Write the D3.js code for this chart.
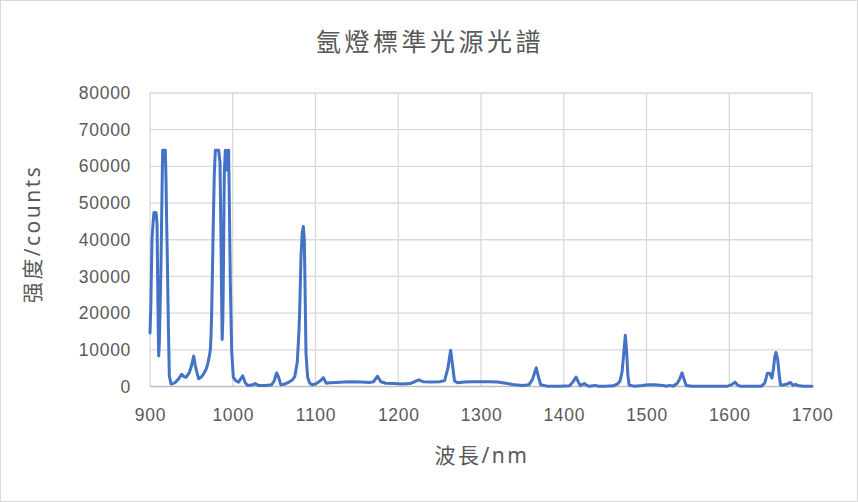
<!DOCTYPE html>
<html>
<head>
<meta charset="utf-8">
<script src="https://cdn.jsdelivr.net/npm/d3@7"></script>
<style>
  html, body { margin: 0; padding: 0; background: #fff; }
  svg { display: block; font-family: "Noto Sans", "Noto Sans CJK TC", sans-serif; }
</style>
</head>
<body>
<svg id="chart" width="858" height="502"></svg>
<script>
const chartTitle = "氬燈標準光源光譜";
const xTitle = "波長/nm";
const yTitle = "强度/counts";
const xTicks = [900, 1000, 1100, 1200, 1300, 1400, 1500, 1600, 1700];
const yTicks = [0, 10000, 20000, 30000, 40000, 50000, 60000, 70000, 80000];

const wavelength = [
  900, 901, 902.4, 903.5, 904.8, 906, 907.3, 908.5, 909.7, 910.5, 911.3, 912.1, 913.3, 914.5, 915.3, 917, 918.5, 919.3, 920.1, 920.9,
  922.2, 923.4, 925.4, 928, 931, 935, 938.3, 941, 943.5, 947.5, 950, 952.8, 954.5, 956.5, 958.8, 962, 964.4, 968, 969.7, 971.5,
  972.9, 973.8, 974.5, 975.5, 976.5, 977.7, 979, 981, 983, 984.6, 985.8, 986.5, 987.2, 988, 988.6, 989.8, 991, 992.8, 994, 995,
  995.9, 997.1, 998.7, 1000.7, 1004, 1007, 1012, 1015, 1018, 1023, 1027, 1031, 1040, 1047, 1050, 1053, 1055.5, 1058, 1062, 1068,
  1072, 1075, 1078, 1080, 1081, 1082.5, 1084, 1085.3, 1086.5, 1087.5, 1088.5, 1090.5, 1093, 1096, 1100, 1106, 1109.5, 1113, 1117, 1125,
  1135, 1145, 1155, 1165, 1170, 1175, 1179, 1185, 1195, 1205, 1214, 1220, 1225, 1230, 1240, 1250, 1256, 1260, 1263.3, 1265.5,
  1268, 1272, 1280, 1290, 1300, 1310, 1320, 1330, 1338, 1350, 1358, 1362, 1366.8, 1369, 1372, 1380, 1395, 1407, 1411, 1414.8,
  1417.5, 1420, 1424.8, 1428, 1431, 1437.8, 1442, 1450, 1460, 1465, 1468, 1470.5, 1472.5, 1474.4, 1476, 1477.5, 1479, 1485, 1495, 1502,
  1510, 1520, 1524, 1528, 1532, 1537, 1540, 1543, 1545, 1548, 1555, 1580, 1598, 1603, 1607, 1610, 1614, 1630, 1639, 1643,
  1646, 1649, 1651.6, 1653.5, 1655, 1656.5, 1658.5, 1660.5, 1662, 1665, 1669, 1674, 1677, 1680, 1684, 1690, 1700
];
const intensity = [
  14600, 22000, 40000, 44000, 47400, 46000, 47400, 44500, 20000, 8300, 12000, 20000, 33700, 52700, 64400, 64400, 64400, 57000, 45000, 35500,
  16400, 2800, 700, 800, 1200, 2200, 3300, 2700, 2500, 3800, 5500, 8300, 6000, 4000, 2100, 2600, 3300, 4800, 6100, 8000,
  10000, 14000, 20000, 32000, 44500, 58000, 64400, 64400, 64400, 61000, 40000, 25000, 12800, 18000, 29000, 58000, 64400, 59000, 64400, 64400,
  50000, 28000, 9700, 2500, 1500, 1200, 2900, 1000, 300, 400, 800, 300, 300, 500, 1500, 3700, 2500, 500, 600, 1200,
  1800, 2700, 6700, 15000, 21800, 35500, 42000, 43600, 40000, 25000, 9000, 2500, 900, 500, 700, 1600, 2400, 900, 1000, 1100,
  1200, 1300, 1200, 1100, 1300, 2800, 1300, 900, 800, 700, 800, 1300, 1800, 1300, 1200, 1300, 1600, 5000, 9900, 6000,
  1500, 1000, 1200, 1300, 1300, 1300, 1200, 900, 550, 300, 500, 1800, 5100, 3000, 500, 100, 50, 200, 1200, 2600,
  1300, 250, 800, 300, 50, 300, 50, 50, 200, 700, 1500, 4000, 9000, 14000, 9500, 3000, 400, 100, 300, 500,
  500, 300, 50, 300, 100, 800, 2000, 3700, 2200, 300, 50, 50, 100, 500, 1200, 400, 50, 50, 100, 1000,
  3600, 3600, 2300, 5000, 8000, 9300, 7400, 2900, 400, 400, 600, 1100, 300, 600, 200, 50, 50
];

const data = wavelength.map((w, i) => ({ w, v: intensity[i] }));

const svg = d3.select("#chart");
const W = 858, H = 502;
const plotLeft = 150, plotRight = 812, plotTop = 93, plotBottom = 386.5;

const x = d3.scaleLinear().domain([900, 1700]).range([plotLeft, plotRight]);
const y = d3.scaleLinear().domain([0, 80000]).range([plotBottom, plotTop]);

// outer border
svg.append("rect")
  .attr("x", 0.5).attr("y", 0.5).attr("width", W - 1).attr("height", H - 1)
  .attr("fill", "#fff").attr("stroke", "#d9d9d9").attr("stroke-width", 1);

// grid
const grid = svg.append("g");
grid.selectAll("line.h").data(yTicks.filter(d => d > 0)).join("line")
  .attr("x1", plotLeft).attr("x2", plotRight)
  .attr("y1", d => y(d)).attr("y2", d => y(d))
  .attr("stroke", "#d9d9d9").attr("stroke-width", 1.3);
grid.selectAll("line.v").data(xTicks).join("line")
  .attr("x1", d => x(d)).attr("x2", d => x(d))
  .attr("y1", plotTop).attr("y2", plotBottom)
  .attr("stroke", "#d9d9d9").attr("stroke-width", 1.3);

// x axis line
svg.append("line")
  .attr("x1", plotLeft).attr("x2", plotRight).attr("y1", y(0)).attr("y2", y(0))
  .attr("stroke", "#bfbfbf").attr("stroke-width", 1.5);

// axes labels via d3 axes
const xAxis = d3.axisBottom(x).tickValues(xTicks).tickSize(0).tickPadding(0).tickFormat(d3.format("d"));
const gx = svg.append("g").attr("transform", `translate(0, ${plotBottom + 28})`).call(xAxis);
gx.select(".domain").remove();
gx.selectAll("text").attr("y", 0).attr("dy", "0.35em").attr("fill", "#595959")
  .style("font-size", "17.5px").style("letter-spacing", "0.7px");

const yAxis = d3.axisLeft(y).tickValues(yTicks).tickSize(0).tickPadding(0).tickFormat(d3.format("d"));
const gy = svg.append("g").attr("transform", `translate(131, 0)`).call(yAxis);
gy.select(".domain").remove();
gy.selectAll("text").attr("fill", "#595959")
  .style("font-size", "17.5px").style("letter-spacing", "0.7px");

// line
const line = d3.line().x(d => x(d.w)).y(d => y(d.v)).curve(d3.curveLinear);
svg.append("path").datum(data)
  .attr("d", line)
  .attr("fill", "none").attr("stroke", "#4472C4").attr("stroke-width", 3)
  .attr("stroke-linejoin", "round").attr("stroke-linecap", "round");

// titles
svg.append("text").attr("x", 430).attr("y", 41).attr("text-anchor", "middle")
  .attr("dominant-baseline", "central")
  .attr("fill", "#595959").style("font-size", "25px").style("letter-spacing", "3.5px")
  .text(chartTitle);

svg.append("text").attr("x", 482).attr("y", 455).attr("text-anchor", "middle")
  .attr("dominant-baseline", "central")
  .attr("fill", "#595959").style("font-size", "21px").style("letter-spacing", "2.5px")
  .text(xTitle);

svg.append("text").attr("transform", "translate(32, 234) rotate(-90)").attr("text-anchor", "middle")
  .attr("dominant-baseline", "central")
  .attr("fill", "#595959").style("font-size", "21px").style("letter-spacing", "2.5px")
  .text(yTitle);
</script>
</body>
</html>
